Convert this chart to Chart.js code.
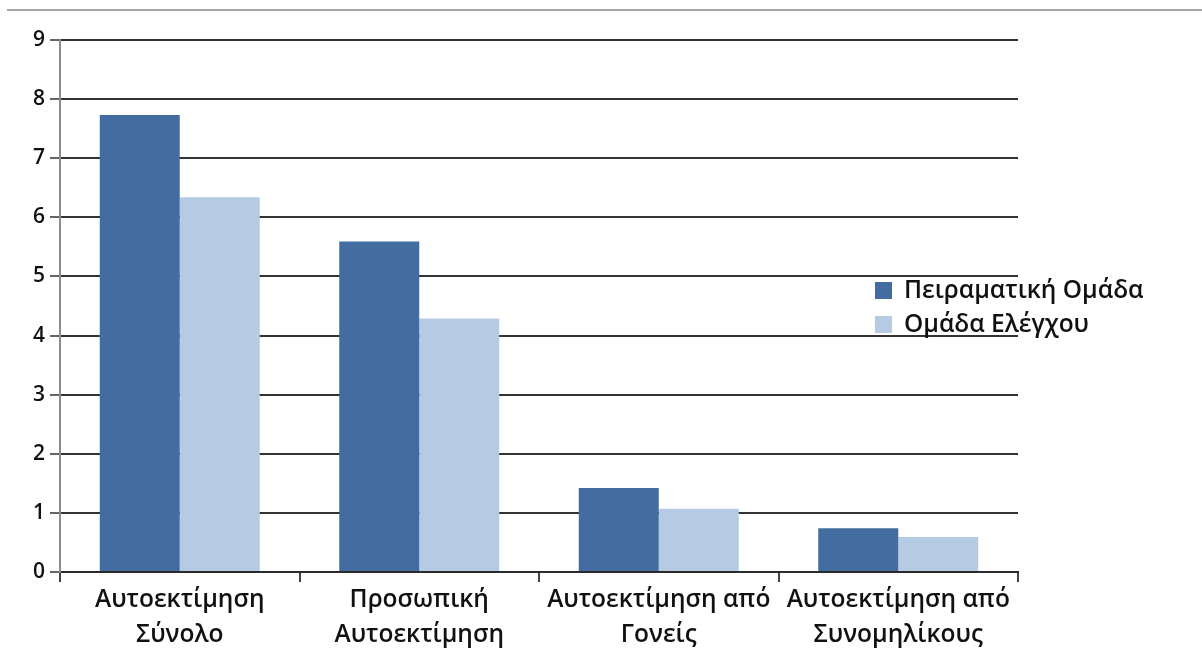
<!DOCTYPE html>
<html>
<head>
<meta charset="utf-8">
<script src="https://cdn.jsdelivr.net/npm/chart.js@4.4.1/dist/chart.umd.min.js"></script>
<style>
  html, body { margin: 0; padding: 0; background: #fff; }
  #wrap { position: relative; width: 1202px; height: 664px; overflow: hidden; }
  #topline { position: absolute; left: 7px; right: 0; top: 9px; border-top: 2px solid #a6a6a6; }
  canvas { position: absolute; left: 0; top: 0; }
</style>
</head>
<body>
<div id="wrap">
  <div id="topline"></div>
  <canvas id="chart" width="1202" height="664"></canvas>
</div>
<script>
// categories (two-line labels)
const categories = [
  ["Αυτοεκτίμηση", "Σύνολο"],
  ["Προσωπική", "Αυτοεκτίμηση"],
  ["Αυτοεκτίμηση από", "Γονείς"],
  ["Αυτοεκτίμηση από", "Συνομηλίκους"]
];
const seriesNames = ["Πειραματική Ομάδα", "Ομάδα Ελέγχου"];
const experimentalValues = [7.73, 5.59, 1.42, 0.74];
const controlValues = [6.34, 4.29, 1.07, 0.59];
const yTicks = [0, 1, 2, 3, 4, 5, 6, 7, 8, 9];

const FONT = "'Open Sans', 'DejaVu Sans', sans-serif";

// legend drawn over the plot, like the original
const overlayLegend = {
  id: "overlayLegend",
  afterDatasetsDraw(chart) {
    const ctx = chart.ctx;
    ctx.save();
    ctx.font = "600 24.5px " + FONT;
    ctx.textBaseline = "middle";
    chart.data.datasets.forEach((ds, i) => {
      const y = 290 + i * 34;
      ctx.fillStyle = ds.backgroundColor;
      ctx.fillRect(875, y - 8, 17, 17);
      ctx.fillStyle = "#111";
      ctx.fillText(ds.label, 904, y + 1);
    });
    ctx.restore();
  }
};

new Chart(document.getElementById("chart"), {
  type: "bar",
  data: {
    labels: categories,
    datasets: [
      { label: seriesNames[0], data: experimentalValues, backgroundColor: "#436ca1" },
      { label: seriesNames[1], data: controlValues, backgroundColor: "#b5cbe4" }
    ]
  },
  options: {
    responsive: false,
    animation: false,
    layout: { padding: { top: 40, right: 184, left: 0, bottom: 0 } },
    plugins: { legend: { display: false }, tooltip: { enabled: false } },
    datasets: { bar: { barPercentage: 1.0, categoryPercentage: 0.668 } },
    scales: {
      x: {
        afterFit: (s) => { s.height = 92; },
        border: { color: "#2a2a2a", width: 2 },
        grid: {
          offset: true,
          drawOnChartArea: true,
          color: (c) => (c.index === 4 ? "#c8c8c8" : "rgba(0,0,0,0)"),
          tickColor: "#444",
          lineWidth: 2,
          tickLength: 10
        },
        ticks: {
          color: "#111",
          padding: 0,
          font: { family: FONT, size: 24.5, weight: 600, lineHeight: 1.45 },
          maxRotation: 0,
          autoSkip: false
        }
      },
      y: {
        min: 0,
        max: 9,
        afterFit: (s) => { s.width = 60; },
        afterBuildTicks: (s) => { s.ticks = yTicks.map((v) => ({ value: v })); },
        border: { color: "#8c8c8c", width: 2 },
        grid: {
          color: "#333",
          tickColor: "#666",
          lineWidth: 2,
          tickLength: 10
        },
        ticks: {
          color: "#111",
          padding: 5,
          font: { family: FONT, size: 21, weight: 600 }
        }
      }
    }
  },
  plugins: [overlayLegend]
});
</script>
</body>
</html>
